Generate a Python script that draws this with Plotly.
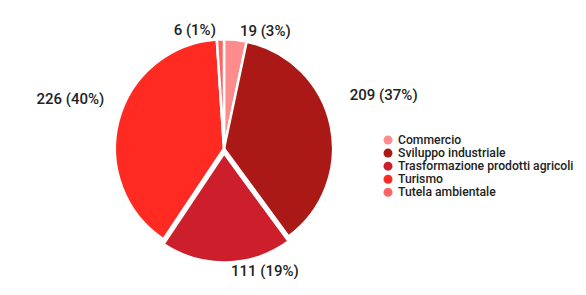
import plotly.graph_objects as go

categories = ["Commercio", "Sviluppo industriale", "Trasformazione prodotti agricoli", "Turismo", "Tutela ambientale"]
values = [19, 209, 111, 226, 6]
colors = ["#FF8C8C", "#AB1917", "#CC1F2B", "#FF2B22", "#FF6464"]
pulls = [0.0, 0.0, 0.045, 0.0, 0.0]

W, H = 586, 295
cx, cy, R = 224, 151, 111
Rd = R * (1 + max(pulls))

base_tpl = "%{value} (%{percent:.0%})"
# extra blank lines below some labels lift them, as in the reference layout
lift = [0, 3, 0, 2, 0]
templates = [base_tpl + "<br> " * n for n in lift]

fig = go.Figure()
fig.add_trace(go.Pie(
    labels=categories, values=values, sort=False, direction="clockwise",
    marker=dict(colors=colors, line=dict(color="white", width=2.5)),
    pull=pulls,
    textposition="outside", texttemplate=templates,
    textfont=dict(family="Roboto", size=15, color="#222222", weight=500),
    showlegend=False, hoverinfo="label+value+percent",
    domain=dict(x=[(cx - Rd) / W, (cx + Rd) / W], y=[(H - cy - Rd) / H, (H - cy + Rd) / H]),
))

# custom legend (circle markers, compact spacing)
lx, dy = 388, 13.3
ly0 = 169 - 2 * dy
for i, (name, col) in enumerate(zip(categories, colors)):
    y_pix = ly0 + i * dy
    yp = 1 - y_pix / H
    fig.add_shape(type="circle", xref="paper", yref="paper",
                  xsizemode="pixel", ysizemode="pixel",
                  xanchor=lx / W, yanchor=yp,
                  x0=-4.5, x1=4.5, y0=-4.5, y1=4.5,
                  fillcolor=col, line=dict(width=0))
    fig.add_annotation(x=(lx + 9) / W, y=yp, xref="paper", yref="paper",
                       text=name, showarrow=False, xanchor="left", yanchor="middle",
                       borderpad=0,
                       font=dict(family="Roboto", size=12.2, color="#222222", weight=500))

fig.update_layout(
    width=W, height=H, margin=dict(l=0, r=0, t=0, b=0),
    paper_bgcolor="white", plot_bgcolor="white",
)
fig.write_html("out.html", config={"displayModeBar": False})

with open("out.html", "r", encoding="utf-8") as f:
    html = f.read()
html = html.replace("<body>", '<body style="margin:0;padding:0;">', 1)
with open("out.html", "w", encoding="utf-8") as f:
    f.write(html)
